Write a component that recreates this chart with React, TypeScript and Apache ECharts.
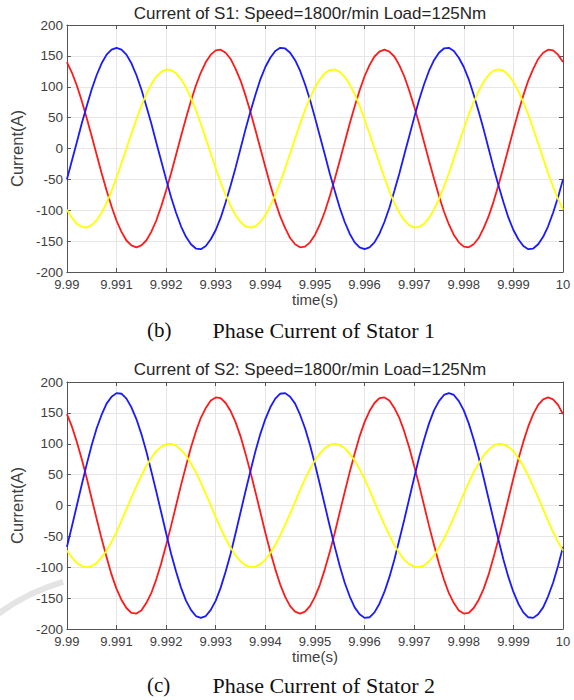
import React, { useEffect, useRef } from "react";
import * as echarts from "echarts";

// time samples (s)
const time = [
  9.99, 9.9901, 9.9902, 9.9903, 9.9904, 9.9905, 9.9906, 9.9907, 9.9908, 9.9909,
  9.991, 9.9911, 9.9912, 9.9913, 9.9914, 9.9915, 9.9916, 9.9917, 9.9918, 9.9919,
  9.992, 9.9921, 9.9922, 9.9923, 9.9924, 9.9925, 9.9926, 9.9927, 9.9928, 9.9929,
  9.993, 9.9931, 9.9932, 9.9933, 9.9934, 9.9935, 9.9936, 9.9937, 9.9938, 9.9939,
  9.994, 9.9941, 9.9942, 9.9943, 9.9944, 9.9945, 9.9946, 9.9947, 9.9948, 9.9949,
  9.995, 9.9951, 9.9952, 9.9953, 9.9954, 9.9955, 9.9956, 9.9957, 9.9958, 9.9959,
  9.996, 9.9961, 9.9962, 9.9963, 9.9964, 9.9965, 9.9966, 9.9967, 9.9968, 9.9969,
  9.997, 9.9971, 9.9972, 9.9973, 9.9974, 9.9975, 9.9976, 9.9977, 9.9978, 9.9979,
  9.998, 9.9981, 9.9982, 9.9983, 9.9984, 9.9985, 9.9986, 9.9987, 9.9988, 9.9989,
  9.999, 9.9991, 9.9992, 9.9993, 9.9994, 9.9995, 9.9996, 9.9997, 9.9998, 9.9999,
  10,
];

// Stator 1 phase currents (A)
const s1Red = [
  140, 123, 102, 77, 49, 20, -10, -40, -68, -94,
  -117, -135, -149, -157, -160, -157, -149, -135, -117, -94,
  -68, -40, -10, 20, 49, 77, 102, 123, 140, 152,
  159, 160, 155, 145, 129, 110, 86, 59, 30, 0,
  -30, -59, -86, -110, -129, -145, -155, -160, -159, -152,
  -140, -123, -102, -77, -49, -20, 10, 40, 68, 94,
  117, 135, 149, 157, 160, 157, 149, 135, 117, 94,
  68, 40, 10, -20, -49, -77, -102, -123, -140, -152,
  -159, -160, -155, -145, -129, -110, -86, -59, -30, 0,
  30, 59, 86, 110, 129, 145, 155, 160, 159, 152,
  140,
];
const s1Blue = [
  -50, -20, 10, 41, 69, 96, 119, 138, 152, 160,
  163, 160, 152, 138, 119, 96, 69, 41, 10, -20,
  -50, -79, -104, -126, -143, -155, -162, -163, -158, -147,
  -132, -112, -87, -60, -31, 0, 31, 60, 87, 112,
  132, 147, 158, 163, 162, 155, 143, 126, 104, 79,
  50, 20, -10, -41, -69, -96, -119, -138, -152, -160,
  -163, -160, -152, -138, -119, -96, -69, -41, -10, 20,
  50, 79, 104, 126, 143, 155, 162, 163, 158, 147,
  132, 112, 87, 60, 31, 0, -31, -60, -87, -112,
  -132, -147, -158, -163, -162, -155, -143, -126, -104, -79,
  -50,
];
const s1Yellow = [
  -99, -112, -122, -127, -128, -124, -116, -104, -88, -69,
  -47, -24, 0, 24, 47, 69, 88, 104, 116, 124,
  128, 127, 122, 112, 99, 82, 62, 40, 16, -8,
  -32, -55, -75, -93, -108, -119, -126, -128, -126, -119,
  -108, -93, -75, -55, -32, -8, 16, 40, 62, 82,
  99, 112, 122, 127, 128, 124, 116, 104, 88, 69,
  47, 24, 0, -24, -47, -69, -88, -104, -116, -124,
  -128, -127, -122, -112, -99, -82, -62, -40, -16, 8,
  32, 55, 75, 93, 108, 119, 126, 128, 126, 119,
  108, 93, 75, 55, 32, 8, -16, -40, -62, -82,
  -99,
];

// Stator 2 phase currents (A)
const s2Red = [
  148, 128, 103, 75, 44, 11, -22, -54, -84, -112,
  -135, -153, -166, -174, -175, -170, -158, -142, -120, -94,
  -64, -33, 0, 33, 64, 94, 120, 142, 158, 170,
  175, 174, 166, 153, 135, 112, 84, 54, 22, -11,
  -44, -75, -103, -128, -148, -163, -172, -175, -172, -163,
  -148, -128, -103, -75, -44, -11, 22, 54, 84, 112,
  135, 153, 166, 174, 175, 170, 158, 142, 120, 94,
  64, 33, 0, -33, -64, -94, -120, -142, -158, -170,
  -175, -174, -166, -153, -135, -112, -84, -54, -22, 11,
  44, 75, 103, 128, 148, 163, 172, 175, 172, 163,
  148,
];
const s2Blue = [
  -67, -34, 0, 34, 67, 98, 125, 147, 165, 176,
  182, 181, 173, 159, 140, 116, 88, 56, 23, -11,
  -45, -78, -107, -133, -154, -169, -179, -182, -179, -169,
  -154, -133, -107, -78, -45, -11, 23, 56, 88, 116,
  140, 159, 173, 181, 182, 176, 165, 147, 125, 98,
  67, 34, 0, -34, -67, -98, -125, -147, -165, -176,
  -182, -181, -173, -159, -140, -116, -88, -56, -23, 11,
  45, 78, 107, 133, 154, 169, 179, 182, 179, 169,
  154, 133, 107, 78, 45, 11, -23, -56, -88, -116,
  -140, -159, -173, -181, -182, -176, -165, -147, -125, -98,
  -67,
];
const s2Yellow = [
  -73, -84, -93, -98, -100, -98, -93, -84, -73, -59,
  -43, -25, -6, 13, 31, 48, 64, 77, 88, 95,
  99, 100, 97, 90, 81, 68, 54, 37, 19, 0,
  -19, -37, -54, -68, -81, -90, -97, -100, -99, -95,
  -88, -77, -64, -48, -31, -13, 6, 25, 43, 59,
  73, 84, 93, 98, 100, 98, 93, 84, 73, 59,
  43, 25, 6, -13, -31, -48, -64, -77, -88, -95,
  -99, -100, -97, -90, -81, -68, -54, -37, -19, 0,
  19, 37, 54, 68, 81, 90, 97, 100, 99, 95,
  88, 77, 64, 48, 31, 13, -6, -25, -43, -59,
  -73,
];

const titles = [
  "Current of S1: Speed=1800r/min Load=125Nm",
  "Current of S2: Speed=1800r/min Load=125Nm",
];
const captionTags = ["(b)", "(c)"];
const captionTexts = ["Phase Current of Stator 1", "Phase Current of Stator 2"];
const xName = "time(s)";
const yName = "Current(A)";

const SANS = "'Liberation Sans', Arial, Helvetica, sans-serif";
const SERIF = "'Liberation Serif', 'Times New Roman', serif";
const AXIS = "#555555";
const LABEL = "#404040";
const GRIDLINE = "#e6e6e6";
const COLORS = { red: "#ff1a1a", blue: "#1a1aff", yellow: "#ffff00" };

const GRID_LEFT = 57;
const GRID_W = 506;
const GRID_H = 247;
const GRID_TOPS = [25, 382];

function buildOption() {
  const fmt = (v: number) => String(Math.round(v * 1000) / 1000);
  const xAxis: any[] = [];
  const yAxis: any[] = [];
  GRID_TOPS.forEach((_, g) => {
    xAxis.push({
      type: "value",
      gridIndex: g,
      min: 9.99,
      max: 10,
      interval: 0.001,
      position: "bottom",
      axisLine: { show: true, onZero: false, lineStyle: { color: AXIS, width: 1 } },
      axisTick: { show: true, inside: true, length: 4, lineStyle: { color: AXIS } },
      axisLabel: { color: LABEL, fontSize: 13, fontFamily: SANS, margin: 6, formatter: fmt },
      splitLine: { show: true, lineStyle: { color: GRIDLINE, width: 1 } },
      name: xName,
      nameLocation: "middle",
      nameGap: 20,
      nameTextStyle: { color: LABEL, fontSize: 15, fontFamily: SANS },
    });
    xAxis.push({
      type: "value",
      gridIndex: g,
      min: 9.99,
      max: 10,
      interval: 0.001,
      position: "top",
      axisLine: { show: true, onZero: false, lineStyle: { color: AXIS, width: 1 } },
      axisTick: { show: true, inside: true, length: 4, lineStyle: { color: AXIS } },
      axisLabel: { show: false },
      splitLine: { show: false },
    });
    yAxis.push({
      type: "value",
      gridIndex: g,
      min: -200,
      max: 200,
      interval: 50,
      position: "left",
      axisLine: { show: true, onZero: false, lineStyle: { color: AXIS, width: 1 } },
      axisTick: { show: true, inside: true, length: 4, lineStyle: { color: AXIS } },
      axisLabel: { color: LABEL, fontSize: 13.5, fontFamily: SANS, margin: 4 },
      splitLine: { show: true, lineStyle: { color: GRIDLINE, width: 1 } },
      name: yName,
      nameLocation: "middle",
      nameRotate: 90,
      nameGap: 24,
      nameTextStyle: { color: LABEL, fontSize: 16.5, fontFamily: SANS },
    });
    yAxis.push({
      type: "value",
      gridIndex: g,
      min: -200,
      max: 200,
      interval: 50,
      position: "right",
      axisLine: { show: true, onZero: false, lineStyle: { color: AXIS, width: 1 } },
      axisTick: { show: true, inside: true, length: 4, lineStyle: { color: AXIS } },
      axisLabel: { show: false },
      splitLine: { show: false },
    });
  });

  const groups = [
    [s1Red, s1Blue, s1Yellow],
    [s2Red, s2Blue, s2Yellow],
  ];
  const names = ["a", "b", "c"];
  const cols = [COLORS.red, COLORS.blue, COLORS.yellow];
  const series: any[] = [];
  groups.forEach((grp, g) => {
    grp.forEach((arr, k) => {
      series.push({
        type: "line",
        name: `S${g + 1}-${names[k]}`,
        xAxisIndex: g * 2,
        yAxisIndex: g * 2,
        data: time.map((t, i) => [t, arr[i]]),
        symbol: "none",
        showSymbol: false,
        lineStyle: { color: cols[k], width: 1.8 },
        itemStyle: { color: cols[k] },
        z: 3,
      });
    });
  });

  const cx = GRID_LEFT + GRID_W / 2;
  const graphic: any[] = [];
  // faint watermark arc at lower left
  graphic.push({
    type: "arc",
    z: -10,
    silent: true,
    shape: { cx: 120, cy: 780, r: 206, startAngle: (-128 * Math.PI) / 180, endAngle: (-106 * Math.PI) / 180, clockwise: true },
    style: { stroke: "#e4e4e4", lineWidth: 6, fill: "none" },
  });
  const titleY = [13, 369.5];
  const captionY = [330, 685];
  titles.forEach((t, g) => {
    graphic.push({
      type: "text",
      x: cx,
      y: titleY[g],
      style: {
        text: t,
        fill: "#262626",
        font: `17px ${SANS}`,
        align: "center",
        verticalAlign: "middle",
        textAlign: "center",
        textVerticalAlign: "middle",
      },
    });
    graphic.push({
      type: "text",
      x: 147,
      y: captionY[g],
      style: {
        text: captionTags[g],
        fill: "#111",
        font: `21px ${SERIF}`,
        align: "left",
        verticalAlign: "middle",
        textAlign: "left",
        textVerticalAlign: "middle",
      },
    });
    graphic.push({
      type: "text",
      x: 435,
      y: captionY[g],
      style: {
        text: captionTexts[g],
        fill: "#111",
        font: `22px ${SERIF}`,
        align: "right",
        verticalAlign: "middle",
        textAlign: "right",
        textVerticalAlign: "middle",
      },
    });
  });

  return {
    animation: false,
    backgroundColor: "#ffffff",
    grid: GRID_TOPS.map((top) => ({
      left: GRID_LEFT,
      top,
      width: GRID_W,
      height: GRID_H,
      containLabel: false,
    })),
    xAxis,
    yAxis,
    series,
    graphic,
  };
}

export default function App() {
  const ref = useRef<HTMLDivElement>(null);
  useEffect(() => {
    document.body.style.margin = "0";
    if (!ref.current) return;
    const chart = echarts.init(ref.current, null, { renderer: "svg" });
    chart.setOption(buildOption() as any);
    return () => chart.dispose();
  }, []);
  return <div ref={ref} style={{ width: 574, height: 700 }} />;
}
